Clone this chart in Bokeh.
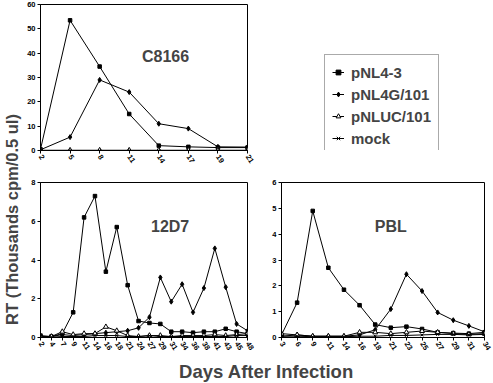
import math
from bokeh.plotting import figure
from bokeh.layouts import row, column
from bokeh.models import FixedTicker, Label, Legend, LegendItem, Range1d
from bokeh.embed import file_html
from bokeh.resources import INLINE

# ---------------- data ----------------
series_names = ["pNL4-3", "pNL4G/101", "pNLUC/101", "mock"]

c_days = ["2", "5", "8", "11", "14", "17", "19", "21"]
c_nl43 = [0.5, 53.5, 34.5, 15.0, 2.0, 1.5, 1.2, 1.2]
c_nl4g = [0.3, 5.5, 29.0, 24.0, 11.0, 9.0, 1.5, 1.4]
c_nluc = [0.1, 0.1, 0.1, 0.1, 0.1, 0.1, 0.1, 0.1]
c_mock = [0.0, 0.0, 0.0, 0.0, 0.0, 0.0, 0.0, 0.0]

d_days = ["2", "4", "7", "9", "11", "14", "16", "18", "21", "24", "27", "29",
          "31", "34", "36", "38", "41", "43", "45", "48"]
d_nl43 = [0.1, 0.05, 0.2, 1.3, 6.2, 7.3, 3.4, 5.7, 2.7, 0.85, 0.75, 0.7,
          0.3, 0.3, 0.25, 0.3, 0.3, 0.45, 0.3, 0.2]
d_nl4g = [0.05, 0.05, 0.15, 0.1, 0.15, 0.2, 0.25, 0.3, 0.35, 0.5, 1.05, 3.1,
          1.85, 2.75, 1.3, 2.55, 4.6, 2.6, 0.7, 0.35]
d_nluc = [0.05, 0.05, 0.3, 0.15, 0.2, 0.2, 0.55, 0.35, 0.1, 0.05, 0.1, 0.1,
          0.05, 0.1, 0.1, 0.1, 0.15, 0.1, 0.15, 0.2]
d_mock = [0.02, 0.02, 0.05, 0.05, 0.05, 0.1, 0.1, 0.1, 0.05, 0.05, 0.1, 0.05,
          0.05, 0.05, 0.05, 0.05, 0.05, 0.05, 0.1, 0.1]

p_days = ["3", "6", "9", "11", "14", "16", "18", "21", "23", "25", "27", "29",
          "31", "34"]
p_nl43 = [0.1, 1.35, 4.9, 2.7, 1.85, 1.25, 0.5, 0.38, 0.42, 0.33, 0.2, 0.17,
          0.15, 0.2]
p_nl4g = [0.05, 0.1, 0.05, 0.05, 0.05, 0.1, 0.3, 1.1, 2.45, 1.8, 0.97, 0.67,
          0.45, 0.22]
p_nluc = [0.15, 0.1, 0.05, 0.05, 0.05, 0.2, 0.2, 0.15, 0.2, 0.25, 0.2, 0.15,
          0.12, 0.15]
p_mock = [0.05, 0.05, 0.03, 0.03, 0.03, 0.05, 0.05, 0.08, 0.08, 0.1, 0.12,
          0.12, 0.1, 0.12]

c_yticks = [0, 10, 20, 30, 40, 50, 60]
d_yticks = [0, 2, 4, 6, 8]
p_yticks = [0, 1, 2, 3, 4, 5, 6]

FONT = "Liberation Sans"
STYLES = [
    dict(marker="square", size=3.5, fill_color="black"),
    dict(marker="diamond", size=5, fill_color="black"),
    dict(marker="triangle", size=5, fill_color="white"),
    dict(marker="x", size=4, fill_color="black"),
]


def panel(width, height, days, series, ymax, yticks, bl, br, bt, bb,
          title, tx, ty):
    n = len(days)
    p = figure(width=width, height=height, x_range=Range1d(0, n - 1),
               y_range=Range1d(0, ymax), output_backend="svg",
               toolbar_location=None, min_border_left=bl,
               min_border_right=br, min_border_top=bt, min_border_bottom=bb)
    p.grid.visible = False
    p.outline_line_color = "black"
    p.outline_line_width = 1
    p.background_fill_color = "white"
    p.border_fill_color = "white"
    xs = list(range(n))
    for ys, st in zip(series, STYLES):
        p.line(xs, ys, line_color="black", line_width=1)
        p.scatter(xs, ys, marker=st["marker"], size=st["size"],
                  fill_color=st["fill_color"], line_color="black",
                  line_width=1)
    p.xaxis.ticker = FixedTicker(ticks=xs)
    p.xaxis.major_label_overrides = {i: d for i, d in enumerate(days)}
    p.xaxis.major_label_orientation = -1.0
    p.yaxis.ticker = FixedTicker(ticks=yticks)
    for ax in (p.xaxis, p.yaxis):
        ax.major_label_text_font = FONT
        ax.major_label_text_font_style = "bold"
        ax.major_label_text_font_size = "7.5px"
        ax.major_label_text_color = "black"
        ax.major_label_standoff = 2
        ax.major_tick_out = 3
        ax.major_tick_in = 0
        ax.minor_tick_line_color = None
        ax.axis_line_color = "black"
        ax.major_tick_line_color = "black"
    p.add_layout(Label(x=tx, y=ty, text=title, text_font=FONT,
                       text_font_style="bold", text_font_size="16px",
                       text_align="center", text_baseline="middle"))
    return p


YLW = 22  # width of y-title strip

top = panel(260 - YLW, 168, c_days, [c_nl43, c_nl4g, c_nluc, c_mock], 60,
            c_yticks, 40 - YLW, 13, 4, 17, "C8166", 4.23, 38.8)

bl = panel(260 - YLW, 192, d_days, [d_nl43, d_nl4g, d_nluc, d_mock], 8,
           d_yticks, 40 - YLW, 13, 14, 23, "12D7", 11.9, 5.75)

br = panel(233, 192, p_days, [p_nl43, p_nl4g, p_nluc, p_mock], 6,
           p_yticks, 21, 9, 14, 23, "PBL", 7.0, 4.3)

# legend panel (its renderers lie outside the visible range; only the
# legend glyphs are seen)
lf = figure(width=233, height=168, x_range=Range1d(0, 1),
            y_range=Range1d(1000, 1001),
            output_backend="svg", toolbar_location=None,
            x_axis_location=None, y_axis_location=None,
            min_border=0, min_border_left=0, min_border_right=0,
            min_border_top=0, min_border_bottom=0)
lf.grid.visible = False
lf.outline_line_color = None
items = []
leg_xs = list(range(len(c_days)))
for name, ys, st in zip(series_names, [c_nl43, c_nl4g, c_nluc, c_mock],
                        STYLES):
    r1 = lf.line(leg_xs, ys, line_color="black", line_width=1)
    r2 = lf.scatter(leg_xs, ys, marker=st["marker"], size=st["size"] + 1,
                    fill_color=st["fill_color"], line_color="black")
    items.append(LegendItem(label=name, renderers=[r1, r2]))
leg = Legend(items=items, location=(64, -6), orientation="vertical",
             label_text_font=FONT, label_text_font_style="bold",
             label_text_font_size="15px", label_height=20, glyph_height=20,
             glyph_width=12, label_standoff=7, spacing=2, padding=7,
             border_line_color="#555555", border_line_width=1,
             background_fill_alpha=1.0, margin=0)
lf.add_layout(leg, "center")

# y title strip
yl = figure(width=YLW, height=383, x_range=Range1d(0, 1), y_range=Range1d(0, 1),
            output_backend="svg", toolbar_location=None,
            x_axis_location=None, y_axis_location=None,
            min_border=0, min_border_left=0, min_border_right=0,
            min_border_top=0, min_border_bottom=0)
yl.grid.visible = False
yl.outline_line_color = None
yl.add_layout(Label(x=11, y=164, x_units="screen", y_units="screen",
                    text="RT (Thousands cpm/0.5 ul)", angle=math.pi / 2,
                    text_font=FONT, text_font_style="bold",
                    text_font_size="16.5px", text_align="center",
                    text_baseline="middle"))

# x title strip
xl = figure(width=493 - YLW, height=23, x_range=Range1d(0, 1),
            y_range=Range1d(0, 1), output_backend="svg", toolbar_location=None,
            x_axis_location=None, y_axis_location=None,
            min_border=0, min_border_left=0, min_border_right=0,
            min_border_top=0, min_border_bottom=0)
xl.grid.visible = False
xl.outline_line_color = None
xl.add_layout(Label(x=266 - YLW, y=12, x_units="screen", y_units="screen",
                    text="Days After Infection", text_font=FONT,
                    text_font_style="bold", text_font_size="18.5px",
                    text_align="center", text_baseline="middle"))

layout = row(yl, column(row(top, lf), row(bl, br), xl))
open("out.html", "w").write(file_html(layout, INLINE))
